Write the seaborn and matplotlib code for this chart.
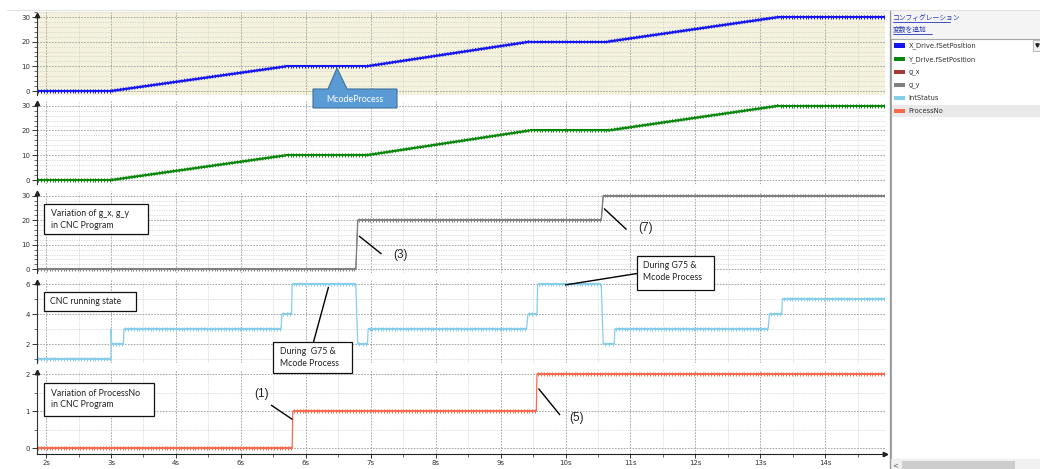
import matplotlib
matplotlib.use("Agg")
import matplotlib.pyplot as plt
import matplotlib.patheffects as pe
from matplotlib.patches import Rectangle, Polygon
from matplotlib.ticker import MultipleLocator, FixedLocator
import seaborn as sns

# ---------------- logged signals (time in s) ----------------
x_time = [1.86, 3.00, 5.70, 6.93, 9.45, 10.65, 13.29, 14.92]
x_pos = [0, 0, 10, 10, 20, 20, 30, 30]

y_time = [1.86, 3.00, 5.70, 6.93, 9.45, 10.65, 13.29, 14.92]
y_pos = [0, 0, 10, 10, 20, 20, 30, 30]

g_time = [1.86, 6.77, 6.80, 10.55, 10.58, 14.92]
g_x = [0, 0, 20, 20, 30, 30]
g_y = [0, 0, 20, 20, 30, 30]

status_time = [1.86, 3.00, 3.00, 3.01, 3.19, 3.20, 5.62, 5.63, 5.78, 5.79,
               6.77, 6.80, 6.95, 6.96, 9.40, 9.42, 9.56, 9.57, 10.55, 10.58,
               10.75, 10.76, 13.12, 13.14, 13.33, 13.34, 14.92]
int_status = [1, 1, 3, 2, 2, 3, 3, 4, 4, 6,
              6, 2, 2, 3, 3, 4, 4, 6, 6, 2,
              2, 3, 3, 4, 4, 5, 5]

process_time = [1.86, 5.79, 5.80, 9.55, 9.56, 14.92]
process_no = [0, 0, 1, 1, 2, 2]

x_ticks = [2, 3, 4, 5, 6, 7, 8, 9, 10, 11, 12, 13, 14]
x_tick_labels = ["2s", "3s", "4s", "6s", "6s", "7s", "8s", "9s",
                 "10s", "11s", "12s", "13s", "14s"]

legend_names = ["X_Drive.fSetPosition", "Y_Drive.fSetPosition", "g_x", "g_y",
                "IntStatus", "ProcessNo"]
legend_colors = ["#1515F0", "#0A870A", "#A33B3B", "#808080", "#87CEEB", "#F86A50"]

# ---------------- styling ----------------
sns.set_theme(style="white")
plt.rcParams["font.family"] = ["DejaVu Sans"]

W, H = 1040, 469
fig = plt.figure(figsize=(W / 100, H / 100), dpi=100)
fig.patch.set_facecolor("white")

X0, X1 = 37, 885          # plot area, pixels
XLIM = (1.86, 14.92)


def frac_box(top, bottom):
    return [X0 / W, 1 - bottom / H, (X1 - X0) / W, (bottom - top) / H]


def sample_ticks(color):
    kw = dict(spacing=2.0, length=0.65, linewidth=0.7, foreground=color)
    return [pe.TickedStroke(angle=90, **kw), pe.TickedStroke(angle=-90, **kw), pe.Normal()]


def draw_series(ax, t, v, color, heavy=True, base_lw=0.9):
    sns.lineplot(x=t, y=v, ax=ax, color=color, lw=base_lw, estimator=None,
                 sort=False, legend=False)
    if not heavy:
        return
    # stretches with many samples get the heavier, ticked look
    for i in range(len(t) - 1):
        if t[i + 1] - t[i] >= 0.05:
            ax.plot(t[i:i + 2], v[i:i + 2], color=color, lw=1.5,
                    solid_capstyle="butt", path_effects=sample_ticks(color))


panels = [
    # top, bottom (px), ylim, major, minor, face
    (12, 95, (-1.62, 32.03), [0, 10, 20, 30], 2, "#F4F2DC"),
    (101, 184, (-1.6, 31.9), [0, 10, 20, 30], 2, "white"),
    (191, 273, (-1.5, 31.9), [0, 10, 20, 30], 2, "white"),
    (280, 363, (0.73, 6.29), [2, 4, 6], 1, "white"),
    (370, 454, (-0.154, 2.116), [0, 1, 2], 0.5, "white"),
]

axes = []
for k, (top, bot, ylim, major, minor, face) in enumerate(panels):
    ax = fig.add_axes(frac_box(top, bot))
    ax.set_facecolor(face)
    ax.set_xlim(*XLIM)
    ax.set_ylim(*ylim)
    ax.yaxis.set_major_locator(FixedLocator(major))
    ax.yaxis.set_minor_locator(MultipleLocator(minor))
    ax.xaxis.set_major_locator(FixedLocator(x_ticks))
    ax.xaxis.set_minor_locator(MultipleLocator(0.5))
    ax.grid(which="major", color="#9A9A9A", lw=0.6, ls=(0, (2, 1.5)))
    ax.grid(which="minor", color="#D2D2D2", lw=0.5, ls=(0, (2, 1.5)))
    ax.set_axisbelow(True)
    for s in ("top", "right"):
        ax.spines[s].set_visible(False)
    ax.spines["left"].set_color("#333333")
    ax.spines["left"].set_linewidth(0.8)
    upp = (ylim[1] - ylim[0]) / (bot - top)
    arrow_y = max(major) + 2.5 * upp
    ax.spines["left"].set_bounds(ylim[0], arrow_y)
    ax.plot([XLIM[0]], [arrow_y], marker="^", ms=3.2, color="#222222",
            clip_on=False, zorder=5)
    ax.tick_params(axis="y", which="major", direction="out", length=3.5, width=0.7,
                   color="#333333", labelsize=5, labelcolor="#333333", pad=1.5, left=True)
    ax.tick_params(axis="y", which="minor", direction="out", length=2.2, width=0.6,
                   color="#555555", left=True)
    if k < len(panels) - 1:
        ax.spines["bottom"].set_visible(False)
        ax.tick_params(axis="x", which="both", length=0, labelbottom=False)
    else:
        ax.spines["bottom"].set_color("#222222")
        ax.spines["bottom"].set_linewidth(0.8)
        ax.set_xticks(x_ticks)
        ax.set_xticklabels(x_tick_labels)
        ax.tick_params(axis="x", which="major", direction="out", length=3, width=0.7,
                       color="#333333", labelsize=5, labelcolor="#333333", pad=1.5,
                       bottom=True)
        ax.tick_params(axis="x", which="minor", direction="out", length=2, width=0.6,
                       color="#555555", bottom=True)
        ax.plot([XLIM[1]], [ylim[0]], marker=">", ms=3.2, color="#222222",
                clip_on=False, zorder=5)
    axes.append(ax)

draw_series(axes[0], x_time, x_pos, legend_colors[0])
draw_series(axes[1], y_time, y_pos, legend_colors[1])
# g_x shares its values with g_y and lies underneath it
draw_series(axes[2], g_time, g_x, legend_colors[2], heavy=False, base_lw=0.5)
draw_series(axes[2], g_time, g_y, legend_colors[3], base_lw=1.0)
draw_series(axes[3], status_time, int_status, legend_colors[4])
draw_series(axes[4], process_time, process_no, legend_colors[5])
for ax in axes:
    ax.set_xlim(*XLIM)
    ax.set_xlabel("")
    ax.set_ylabel("")

# ---------------- overlay in pixel coordinates ----------------
ov = fig.add_axes([0, 0, 1, 1], zorder=10)
ov.set_xlim(0, W)
ov.set_ylim(H, 0)
ov.axis("off")
ov.patch.set_alpha(0)

NOTE_FONT = ["Lato", "DejaVu Sans"]
MARK_FONT = ["Liberation Sans", "DejaVu Sans"]


def note(x0, y0, x1, y1, lines, tx, ys):
    ov.add_patch(Rectangle((x0, y0), x1 - x0, y1 - y0, facecolor="white",
                           edgecolor="#111111", lw=0.9))
    for s, yy in zip(lines, ys):
        ov.text(tx, yy, s, family=NOTE_FONT, fontsize=6.3, color="#222222",
                ha="left", va="center")


def pointer(xa, ya, xb, yb):
    ov.plot([xa, xb], [ya, yb], color="black", lw=1.0, solid_capstyle="butt")


def marker_label(x, y, s):
    ov.text(x, y, s, family=MARK_FONT, fontsize=8.5, color="#222222",
            ha="center", va="center")


# callout on the X drive
ov.add_patch(Polygon([(313, 89), (328, 89), (337, 68), (347, 89), (397, 89),
                      (397, 108), (313, 108)], closed=True,
                     facecolor="#5B9BD5", edgecolor="#41719C", lw=0.8))
ov.text(355, 99, "McodeProcess", family=NOTE_FONT, fontsize=6.4, color="white",
        ha="center", va="center")

note(44, 204, 148, 234, ["Variation of g_x, g_y", "in CNC Program"], 51, [213.5, 225.5])
pointer(359, 236, 381.5, 254)
marker_label(400, 255, "(3)")
pointer(604, 208.5, 626.5, 229.5)
marker_label(646, 227.5, "(7)")

note(44, 292, 136, 311, ["CNC running state"], 50, [301])
note(273, 342, 352, 373, ["During  G75 &", "Mcode Process"], 280, [351.5, 363])
pointer(328.5, 287, 313.5, 342)
note(637, 256, 714, 290, ["During G75 &", "Mcode Process"], 643, [266, 278])
pointer(565, 285, 637, 273.5)

note(44, 383, 154, 416, ["Variation of ProcessNo", "in CNC Program"], 51, [393.5, 404.5])
marker_label(262, 394.5, "(1)")
pointer(271, 405, 292.5, 419.5)
marker_label(577, 418.5, "(5)")
pointer(538.5, 388.5, 560, 415)

# ---------------- side panel with variable list ----------------
ov.plot([7, W], [10.5, 10.5], color="#E2E2E2", lw=0.8)
ov.add_patch(Rectangle((890, 11), W - 890, H - 11, facecolor="#F4F4F4",
                       edgecolor="none"))
ov.add_patch(Rectangle((891, 39), W - 891 + 2, 420, facecolor="white",
                       edgecolor="#A8A8A8", lw=0.8))
ov.plot([889.5, 889.5], [11, H], color="#9A9A9A", lw=1.0)

JP_FONT = ["Noto Sans CJK JP", "DejaVu Sans"]
for s, yy, wpx in [("コンフィグレーション", 18.0, 57), ("変数を追加", 30.0, 39)]:
    ov.text(893, yy, s, family=JP_FONT, fontsize=4.9, color="#2233BB",
            ha="left", va="center")
    ov.plot([893, 893 + wpx], [yy + 4.5, yy + 4.5], color="#2233BB", lw=0.6)

ov.add_patch(Rectangle((892, 105), W - 892, 12.5, facecolor="#E9E9E9",
                       edgecolor="none"))
row_y = [45.7, 59.2, 72.2, 85.3, 98.3, 111.2]
for name, col, yy in zip(legend_names, legend_colors, row_y):
    ov.add_patch(Rectangle((893.5, yy - 2.2), 11.5, 4.4, facecolor=col,
                           edgecolor="none"))
    ov.text(908.5, yy, name, fontsize=4.9, color="#333333", ha="left",
            va="center", family=["DejaVu Sans"])

# dropdown button of the first row
ov.add_patch(Rectangle((1033, 40), 8, 11, facecolor="#F0F0F0",
                       edgecolor="#B0B0B0", lw=0.6))
ov.plot([1037], [45.5], marker="v", ms=2.4, color="#222222")

# horizontal scroll bar
ov.add_patch(Rectangle((890, 459.5), W - 890, 10, facecolor="#F0F0F0",
                       edgecolor="none"))
ov.add_patch(Rectangle((902, 461), 113, 8, facecolor="#CDCDCD", edgecolor="none"))
ov.text(895.5, 465, "<", fontsize=5, color="#555555", ha="center", va="center")

fig.savefig("out.png", dpi=100)
